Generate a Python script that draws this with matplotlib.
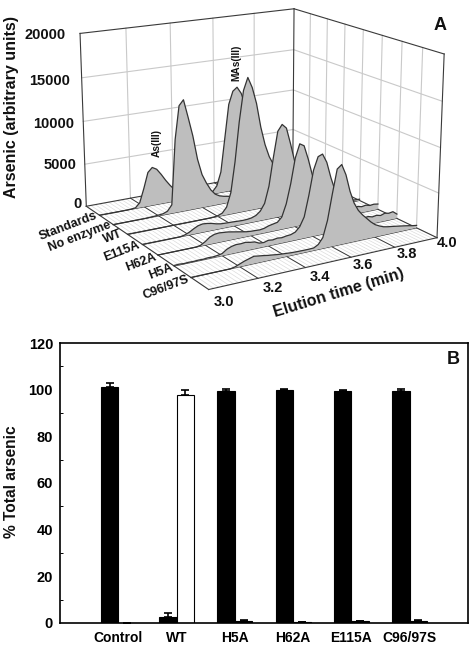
import numpy as np
import matplotlib
matplotlib.use('Agg')
import matplotlib.pyplot as plt
from mpl_toolkits.mplot3d.art3d import Poly3DCollection

plt.rcParams['font.family'] = ['Liberation Sans', 'DejaVu Sans']
plt.rcParams['font.weight'] = 'bold'

# panel A: elution traces, one value per 0.02 min from 3.00 to 4.00
time_min = [3.00 + 0.02*i for i in range(51)]
standards = [0, 0, 0, 0, 0, 0, 0, 20, 80, 600, 2200, 4000, 4500, 4200, 3500, 2700, 2000, 1400, 900, 550,
             300, 150, 80, 40, 60, 100, 300, 900, 2500, 6500, 10500, 12000, 12400, 11600, 10000, 8200, 6500,
             4900, 3500, 2500, 1700, 1200, 800, 550, 400, 300, 220, 170, 120, 90, 70]
no_enzyme = [0, 0, 0, 0, 0, 0, 0, 0, 30, 50, 100, 150, 350, 1000, 8500, 12300, 12900, 10800, 8600, 5800,
             3900, 2800, 1900, 1300, 1000, 850, 750, 650, 580, 480, 400, 340, 300, 260, 220, 200, 170,
             150, 130, 110, 100, 90, 80, 70, 60, 50, 40, 40, 30, 30, 20]
wt = [0, 0, 0, 0, 0, 0, 0, 0, 0, 0, 0, 0, 0, 0, 0, 0, 0, 0, 0, 30, 100, 300, 900, 2500, 6000, 10500, 14000,
      15400, 14200, 12300, 9500, 7400, 5900, 4900, 4000, 3100, 2500, 1900, 1400, 1100, 800, 600, 450, 350,
      280, 220, 180, 150, 120, 90, 60]
e115a = [0, 0, 0, 0, 0, 0, 0, 0, 0, 100, 300, 600, 850, 950, 900, 800, 650, 550, 520, 500, 480, 450, 430,
         450, 520, 700, 1100, 1900, 3800, 7000, 9900, 10600, 10100, 8200, 6100, 4500, 3200, 2300, 1700, 1250,
         950, 750, 600, 480, 400, 340, 290, 250, 210, 180, 150]
h62a = [0, 0, 0, 0, 0, 0, 0, 0, 0, 100, 400, 800, 1000, 1050, 1000, 950, 850, 750, 650, 550, 500, 480, 450,
        520, 700, 800, 900, 1400, 2800, 5000, 7800, 9300, 9000, 7400, 5500, 4200, 3200, 2400, 1800, 1400,
        1100, 950, 850, 800, 750, 820, 700, 780, 650, 700, 620]
h5a = [60, 90, 40, 70, 50, 80, 60, 110, 90, 140, 240, 600, 800, 900, 880, 930, 820, 760, 520, 480, 620, 560,
       650, 590, 680, 720, 900, 1400, 2400, 4700, 7400, 8800, 9000, 8000, 6200, 4700, 3500, 2700, 2000, 1500,
       1200, 950, 880, 920, 780, 860, 740, 900, 800, 880, 500]
c96 = [0, 0, 0, 0, 0, 0, 0, 0, 0, 100, 300, 500, 650, 800, 720, 650, 560, 500, 430, 380, 340, 300, 280, 270,
       260, 260, 280, 550, 1200, 3000, 5800, 8400, 8800, 7600, 5700, 4300, 3400, 2800, 2300, 1800, 1400, 1150,
       950, 850, 780, 700, 620, 540, 450, 350, 280]
traces = [standards, no_enzyme, wt, e115a, h62a, h5a, c96]
trace_names = ['Standards', 'No enzyme', 'WT', 'E115A', 'H62A', 'H5A', 'C96/97S']
trace_rows = [7, 6, 5, 4, 3, 2, 1]  # row on the floor, 0 is the front edge
time_ticks = [3.0, 3.2, 3.4, 3.6, 3.8, 4.0]
z_ticks = [0, 5000, 10000, 15000, 20000]

# panel B
groups = ['Control', 'WT', 'H5A', 'H62A', 'E115A', 'C96/97S']
pct_first = [101.0, 2.5, 99.6, 100.0, 99.6, 99.5]
pct_first_err = [2.0, 2.0, 0.6, 0.1, 0.2, 0.8]
pct_second = [0.0, 97.8, 0.7, 0.3, 0.8, 0.8]
pct_second_err = [0.0, 1.9, 0.6, 0.1, 0.2, 0.7]

W, H = 475, 648
fig = plt.figure(figsize=(W/100, H/100), dpi=100)


def put(x, y, s, size=10.5, rot=0, **kw):
    # text placed by picture pixels, origin top left
    fig.text(x/W, 1 - y/H, s, fontsize=size, rotation=rot, ha='center', va='center',
             rotation_mode='anchor', color='#111111', **kw)


# camera fitted to the corners of the box in the reference
ax = fig.add_axes([0, 0, 1, 1], projection='3d')
ax.computed_zorder = False
ax.set_xlim(3, 4)
ax.set_ylim(0, 8)
ax.set_zlim(0, 20000)
ax.view_init(elev=16.062, azim=-120.969)
ax.set_proj_type('persp', focal_length=0.632)
ax.set_box_aspect((1, 1.029, 0.72))
ax.set_axis_off()
s, tx, ty = 2167.7657, 255.9377, 134.0739
(u0, v0), (u1, v1) = ax.transLimits.inverted().transform([[0, 0], [1, 1]])
ax.set_position([(tx + s*u0)/W, 1 - (ty - s*v0)/H, s*(u1 - u0)/W, s*(v1 - v0)/H])

grid_c = '#c9c9c9'
edge_c = '#3a3a3a'

# floor hatching
for t in np.arange(3.0, 4.001, 0.02):
    ax.plot([t, t], [0, 8], [0, 0], color='#dcdcdc', lw=0.5, zorder=1)
# walls
for t in time_ticks[1:-1]:
    ax.plot([t, t], [8, 8], [0, 20000], color=grid_c, lw=0.8, zorder=1)
for r in range(1, 8):
    ax.plot([4, 4], [r, r], [0, 20000], color=grid_c, lw=0.8, zorder=1)
for z in z_ticks[1:-1]:
    ax.plot([3, 4], [8, 8], [z, z], color=grid_c, lw=0.8, zorder=1)
    ax.plot([4, 4], [0, 8], [z, z], color=grid_c, lw=0.8, zorder=1)
# box edges
for xs, ys, zs in [([3, 4], [0, 0], [0, 0]), ([3, 3], [0, 8], [0, 0]), ([4, 4], [0, 8], [0, 0]),
                   ([3, 4], [8, 8], [0, 0]), ([3, 3], [8, 8], [0, 20000]), ([4, 4], [8, 8], [0, 20000]),
                   ([4, 4], [0, 0], [0, 20000]), ([3, 4], [8, 8], [20000, 20000]),
                   ([4, 4], [0, 8], [20000, 20000])]:
    ax.plot(xs, ys, zs, color=edge_c, lw=0.8, zorder=2)
for t in time_ticks[1:-1]:
    ax.plot([t, t], [0, 8], [0, 0], color=edge_c, lw=0.7, zorder=2)

# traces from the back row to the front row
order = 3
for vals, row in zip(traces, trace_rows):
    xs = np.array(time_min)
    ys = np.full(xs.shape, float(row))
    zs = np.array(vals, float)
    ax.plot([3, 4], [row, row], [0, 0], color='#222222', lw=0.7, zorder=order)
    verts = list(zip(xs, ys, zs)) + list(zip(xs[::-1], ys, np.zeros(len(xs))))
    poly = Poly3DCollection([verts], facecolor='#bebebe', edgecolor='none', zorder=order + 1)
    ax.add_collection3d(poly, autolim=False)
    ax.plot(xs, ys, zs, color='#333333', lw=0.9, zorder=order + 2)
    order += 3

put(45, 35, '20000')
put(50, 81, '15000')
put(54, 124, '10000')
put(60, 165, '5000')
put(78, 204, '0')
put(12, 107, 'Arsenic (arbitrary units)', size=11.5, rot=90)
for (x, y), name in zip([(68, 226), (80, 237), (113, 237), (122, 251), (141, 262), (161, 272), (166, 288)],
                        trace_names):
    put(x, y, name, size=9, rot=21)
for (x, y), t in zip([(224, 302), (273, 288), (320, 277), (363, 265), (407, 254), (447, 243)], time_ticks):
    put(x, y, f'{t:.1f}')
put(339, 293, 'Elution time (min)', size=11.5, rot=17)
put(157, 143, 'As(III)', size=7.3, rot=90)
put(236, 63, 'MAs(III)', size=7.3, rot=90)
put(440, 26, 'A', size=13)

# bar panel
bx = fig.add_axes([60/W, 1 - 623/H, 408/W, 280/H])
pos = np.arange(1, 7)
width = 0.3
err_kw = dict(capsize=3, capthick=1.2, elinewidth=1.2, ecolor='black')
bx.bar(pos - width/2, pct_first, width, color='black', edgecolor='black', linewidth=0.8)
bx.errorbar(pos - width/2, pct_first, yerr=[np.zeros(6), pct_first_err], fmt='none', **err_kw)
second_colors = ['black', 'white', 'black', 'black', 'black', 'black']
bx.bar(pos + width/2, pct_second, width, color=second_colors, edgecolor='black', linewidth=0.8)
bx.errorbar(pos + width/2, pct_second, yerr=[np.zeros(6), pct_second_err], fmt='none', **err_kw)
bx.set_xlim(0, 7)
bx.set_ylim(0, 120)
bx.set_yticks(range(0, 121, 20))
bx.set_yticks(range(10, 120, 20), minor=True)
bx.set_xticks(pos, groups)
bx.tick_params(axis='x', length=0, labelsize=10, pad=6)
bx.tick_params(axis='y', which='major', length=0, labelsize=10.5, pad=5)
bx.tick_params(axis='y', which='minor', length=2, width=0.7, direction='in')
for sp in bx.spines.values():
    sp.set_linewidth(1.2)
put(12, 482, '% Total arsenic', size=11.2, rot=90)
put(453, 359, 'B', size=13)

fig.savefig('out.png', dpi=100)
